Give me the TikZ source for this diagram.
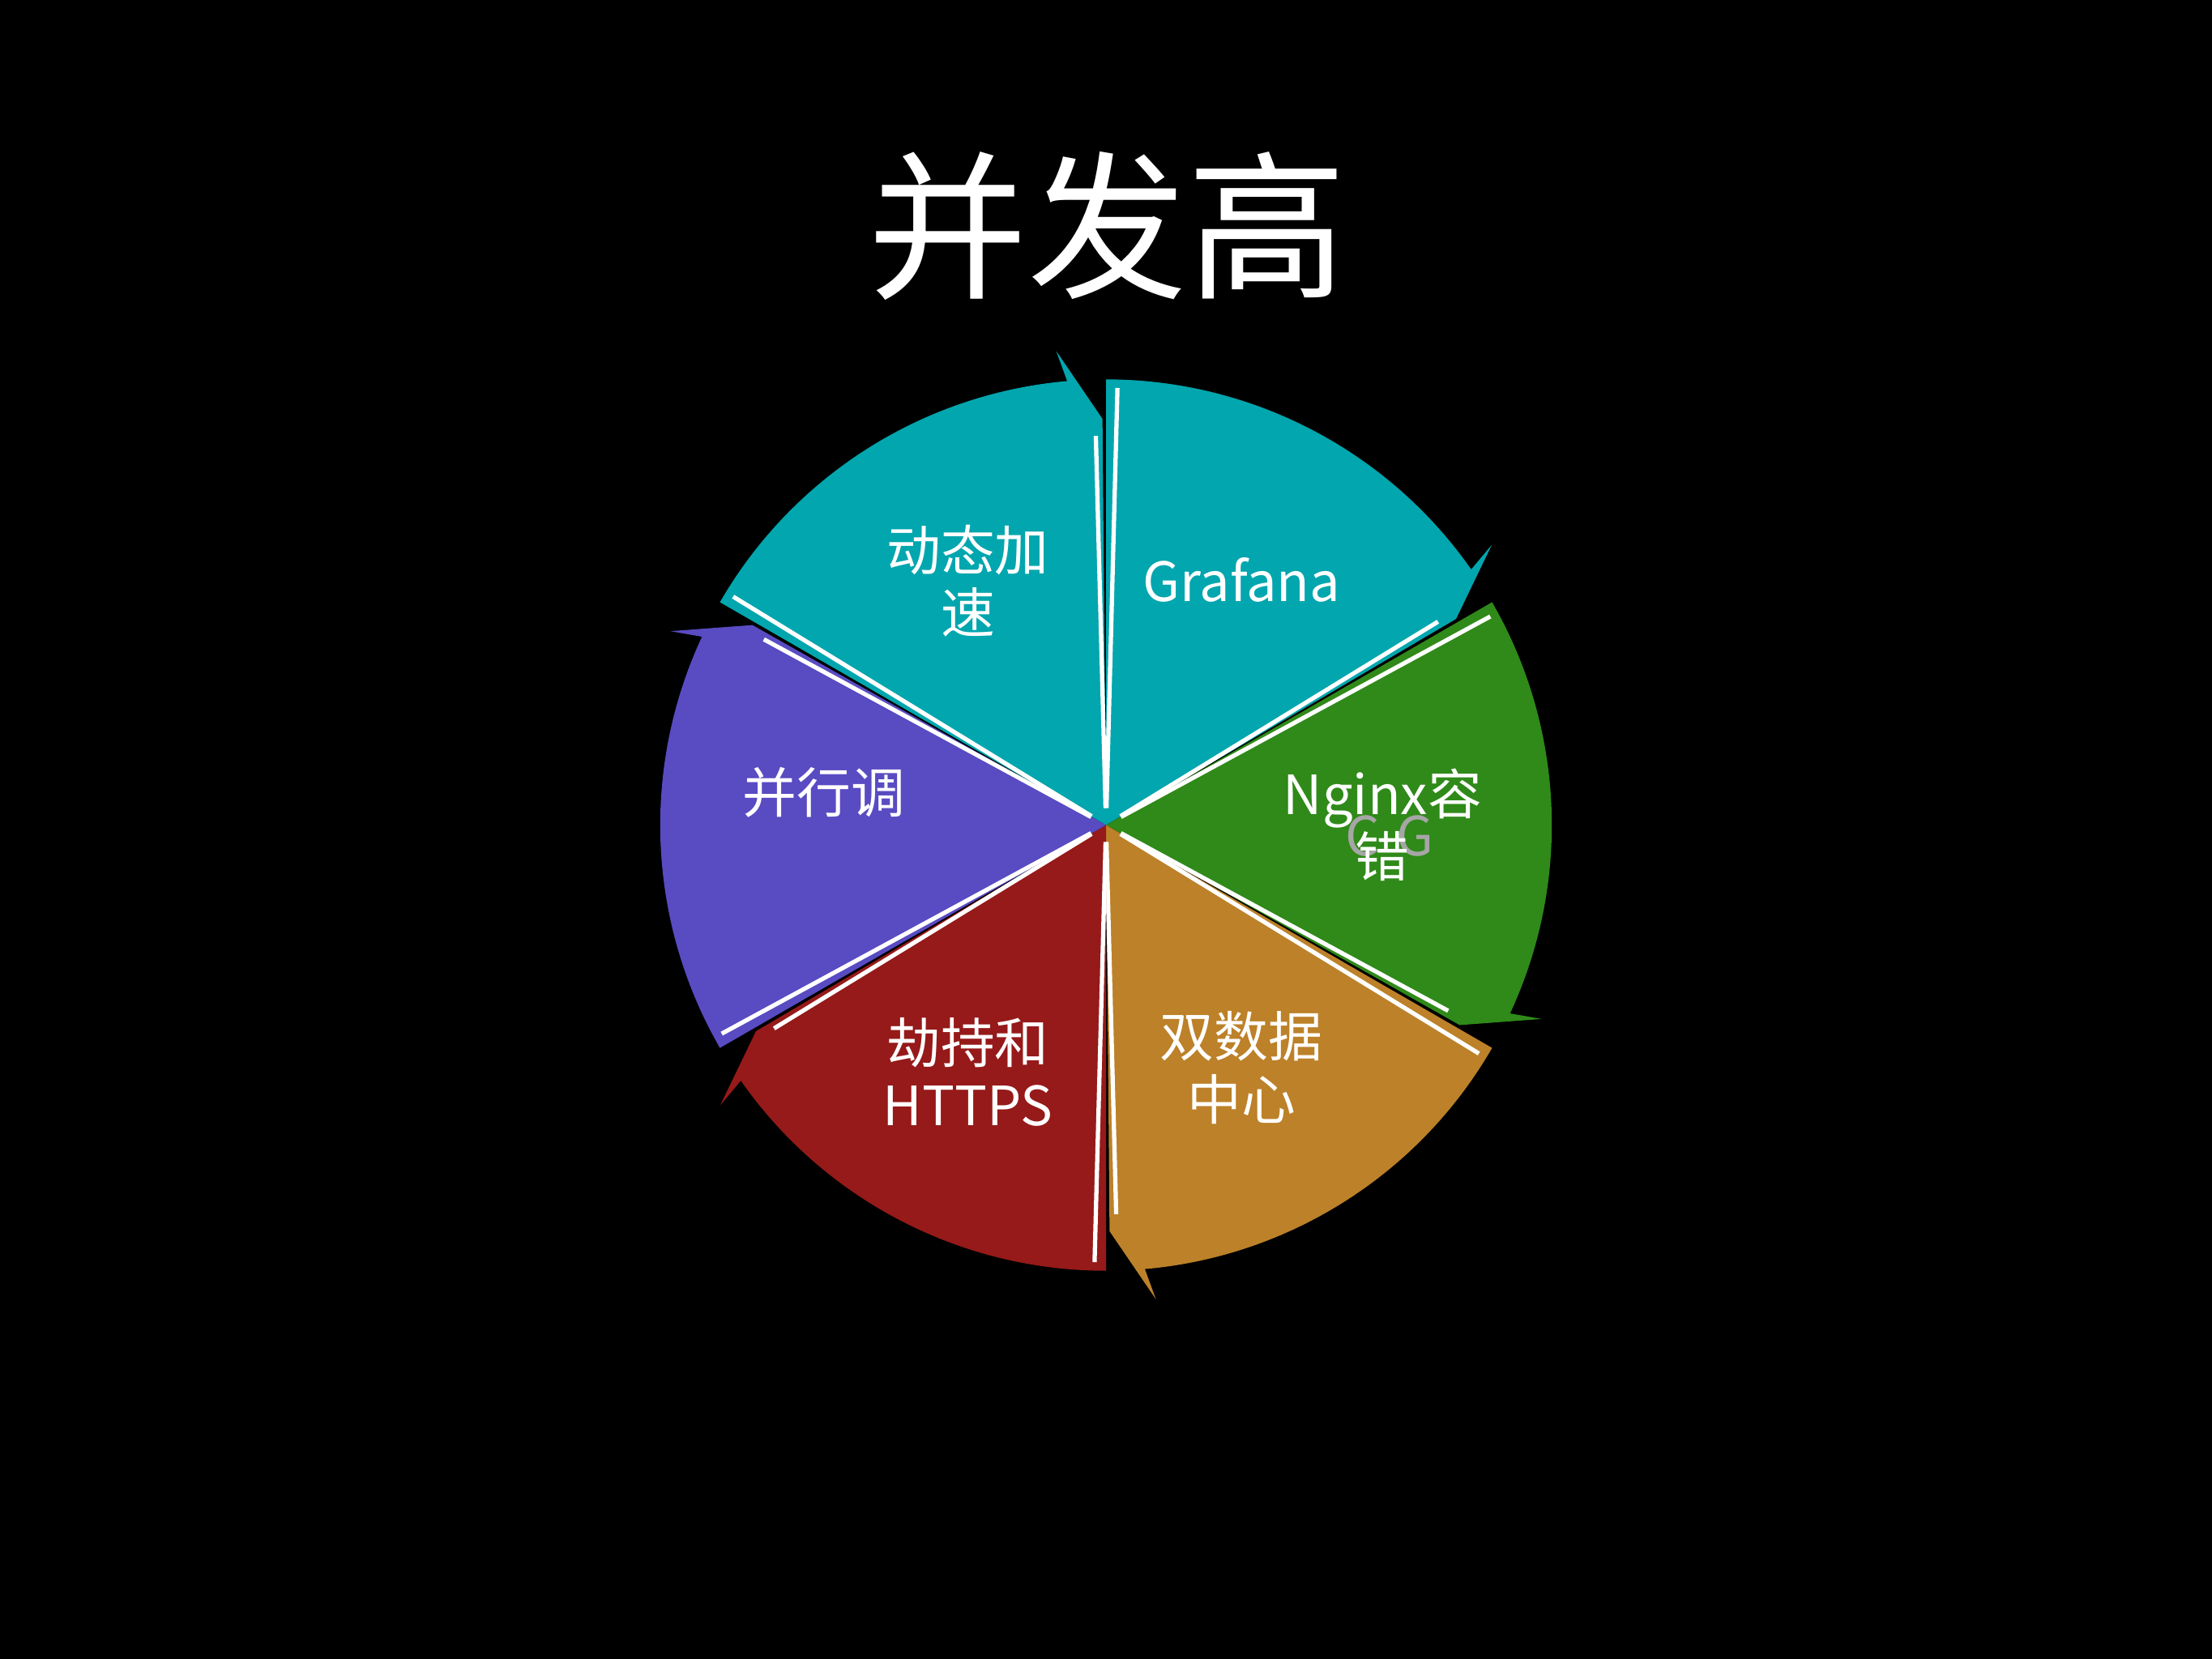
\documentclass[tikz,border=0pt]{standalone}
\usepackage{fontspec}
\usetikzlibrary{calc}
\newfontfamily\cjk{Noto Sans CJK SC}
\definecolor{cteal}{HTML}{02A6AE}
\definecolor{cgreen}{HTML}{2F8A19}
\definecolor{corange}{HTML}{BC8129}
\definecolor{cred}{HTML}{951A19}
\definecolor{cpurple}{HTML}{594BC2}
\begin{document}
\begin{tikzpicture}[x=0.017411cm,y=0.017411cm,
  lbl/.style={text=white,font=\cjk\fontsize{19}{22}\selectfont,align=center,inner sep=0}]
\fill[black] (0,0) rectangle (1568,1176);
\useasboundingbox (0,0) rectangle (1568,1176);
\coordinate (C) at (784,591);
\def\R{316}
\foreach \a/\b/\col in {150/90/cteal,90/30/cteal,30/-30/cgreen,-30/-90/corange,-90/-150/cred,-150/-210/cpurple}{
  \pgfmathsetmacro{\m}{(\a+\b)/2}
  \begin{scope}[shift={(\m:14)}]
  \fill[\col] (C) -- ++(\a:\R) arc[start angle=\a, end angle=\b+5, radius=\R]
     -- ($(C)+(\b+6:\R+22)$) -- ($(C)+(\b+0.5:\R-28)$) -- cycle;
  \draw[white,line width=1.5pt] ($(C)+(\a-1.5:12)$) -- ($(C)+(\a-1.5:\R-6)$);
  \draw[white,line width=1.5pt] ($(C)+(\b+1.5:12)$) -- ($(C)+(\b+1.5:\R-40)$);
  \end{scope}
}
\node[text=white,font=\cjk\fontsize{56}{60}\selectfont,inner sep=0] (title) at (785,1016) {并发高};
\node[lbl] (s1) at (686,764) {动态加\\速};
\node[lbl] (s2) at (880,765) {Grafana};
\node[lbl,text=gray!70] (s3b) at (985,583) {C-G};
\node[lbl] (s3) at (980,591) {Nginx容\\错};
\node[lbl] (s4) at (880,419) {双数据\\中心};
\node[lbl] (s5) at (686,416) {劫持和\\HTTPS};
\node[lbl] (s6) at (584,614) {并行调};
\end{tikzpicture}
\end{document}
